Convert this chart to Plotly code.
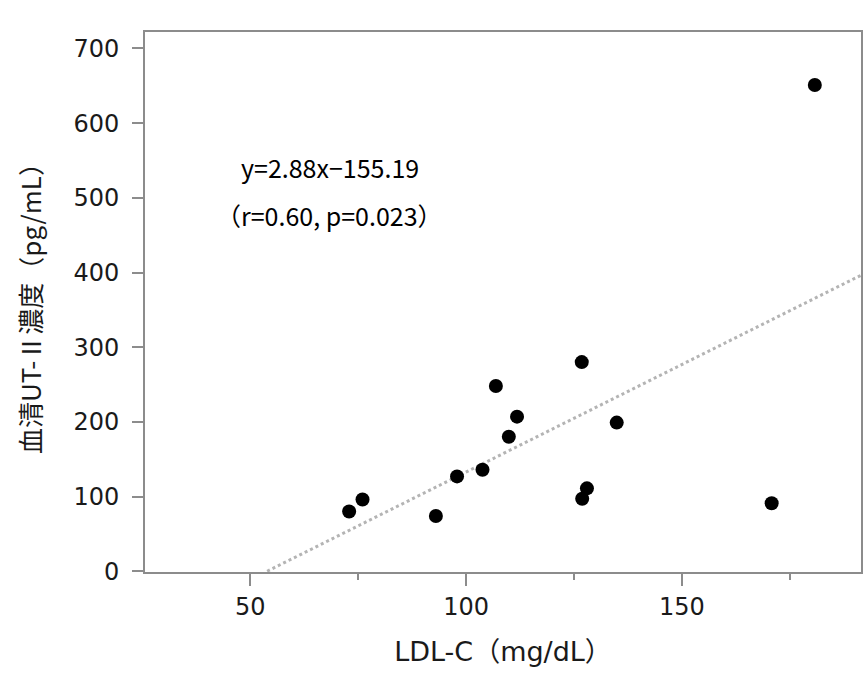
import plotly.graph_objects as go

# Data
ldl_c = [72.9, 76.0, 93.0, 97.9, 103.8, 106.9, 109.9, 111.8, 126.8, 126.9, 128.0, 134.9, 170.8, 180.8]
ut2 = [80, 96, 74, 127, 136, 248, 180, 207, 280, 97, 111, 199, 91, 651]

slope = 2.88
intercept = -155.19
fit_x = [53.9, 191.5]
fit_y = [slope * v + intercept for v in fit_x]

x_ticks = [50, 100, 150]
y_ticks = [0, 100, 200, 300, 400, 500, 600, 700]

eq_text = "y=2.88x−155.19"
stat_text = "（r=0.60, p=0.023）"
x_title = "LDL-C（mg/dL）"
y_title = "血清UT-Ⅱ濃度（pg/mL）"

fig = go.Figure()
fig.add_trace(go.Scatter(x=fit_x, y=fit_y, mode="lines",
                         line=dict(color="#b4b4b4", width=3, dash="dot"),
                         showlegend=False, hoverinfo="skip"))
fig.add_trace(go.Scatter(x=ldl_c, y=ut2, mode="markers",
                         marker=dict(color="black", size=14),
                         showlegend=False))

axis_font = dict(family="DejaVu Sans, Noto Sans CJK JP", size=24, color="#1a1a1a")
xtitle_font = dict(family="DejaVu Sans, Noto Sans CJK JP", size=27, color="#1a1a1a")
ytitle_font = dict(family="Noto Sans CJK JP", size=26, color="#1a1a1a")
fig.update_layout(
    width=865, height=677,
    margin=dict(l=145, r=2, t=32, b=105),
    paper_bgcolor="white", plot_bgcolor="white",
    font=axis_font,
    xaxis=dict(range=[25.6, 191.5], tickvals=x_ticks, ticks="outside", ticklen=12,
               tickwidth=2, tickcolor="#8c8c8c", showgrid=False, zeroline=False,
               showline=True, linecolor="#8c8c8c", linewidth=2, mirror=True,
               minor=dict(ticks="outside", ticklen=6, tickwidth=2, tickcolor="#8c8c8c",
                          dtick=25, tick0=25, showgrid=False),
               tickfont=axis_font,
               title=dict(text=x_title, standoff=22, font=xtitle_font)),
    yaxis=dict(range=[-1, 722], tickvals=y_ticks, ticks="outside", ticklen=11,
               tickwidth=2, tickcolor="#8c8c8c", showgrid=False, zeroline=False,
               showline=True, linecolor="#8c8c8c", linewidth=2, mirror=True,
               tickfont=axis_font, ticklabelstandoff=8,
               title=dict(text=y_title, standoff=24, font=ytitle_font)),
)

fig.add_annotation(x=0.258, y=0.75, xref="paper", yref="paper", text=eq_text,
                   xanchor="center", yanchor="middle",
                   showarrow=False, font=dict(family="Noto Sans CJK JP", size=25, color="black"))
fig.add_annotation(x=0.258, y=0.661, xref="paper", yref="paper", text=stat_text,
                   xanchor="center", yanchor="middle",
                   showarrow=False, font=dict(family="Noto Sans CJK JP", size=25, color="black"))

fig.write_html("out.html")
